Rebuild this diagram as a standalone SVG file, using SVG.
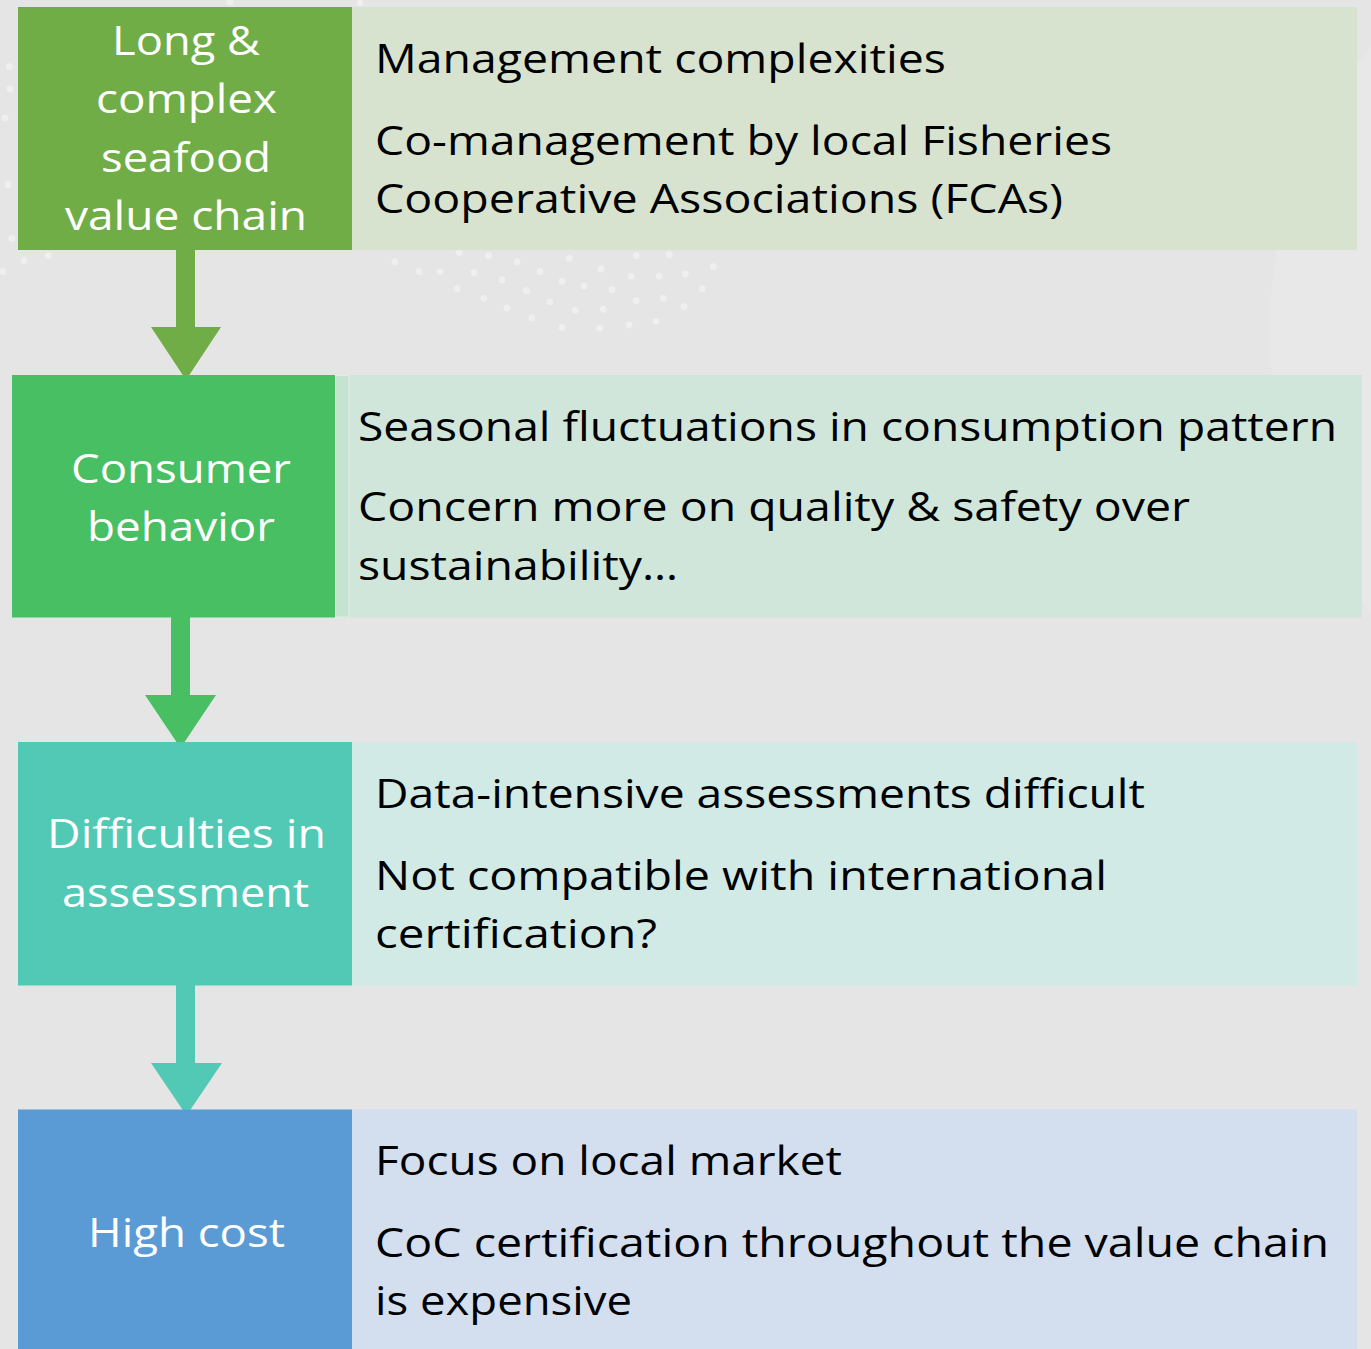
<svg xmlns="http://www.w3.org/2000/svg" width="1371" height="1349" viewBox="0 0 1371 1349">
  <style>
    .lbl { font-family: "Open Sans", "Liberation Sans", sans-serif; font-size: 40px; fill: #FFFFFF; text-anchor: middle; }
    .txt { font-family: "Open Sans", "Liberation Sans", sans-serif; font-size: 40px; fill: #000000; }
    .dot { fill: #EFEFEF; }
  </style>
  <defs>
    <clipPath id="page"><rect x="0" y="0" width="1371" height="1349"/></clipPath>
  </defs>
  <g id="background" clip-path="url(#page)">
    <rect x="0" y="0" width="1371" height="1349" fill="#E5E5E5"/>
    <circle cx="1720" cy="330" r="450" fill="#E8E8E8"/>
    <g id="dots">
      <circle class="dot" cx="395" cy="261.7" r="3.4"/>
      <circle class="dot" cx="419.3" cy="271.7" r="3.4"/>
      <circle class="dot" cx="440" cy="271.7" r="3.4"/>
      <circle class="dot" cx="459.3" cy="252.3" r="3.4"/>
      <circle class="dot" cx="474" cy="272.7" r="3.4"/>
      <circle class="dot" cx="488.7" cy="255.7" r="3.4"/>
      <circle class="dot" cx="502" cy="280" r="3.4"/>
      <circle class="dot" cx="517" cy="261.7" r="3.4"/>
      <circle class="dot" cx="457" cy="288.7" r="3.4"/>
      <circle class="dot" cx="483.7" cy="298.3" r="3.4"/>
      <circle class="dot" cx="507" cy="308" r="3.4"/>
      <circle class="dot" cx="526.3" cy="290.7" r="3.4"/>
      <circle class="dot" cx="540" cy="271.7" r="3.4"/>
      <circle class="dot" cx="549.7" cy="302" r="3.4"/>
      <circle class="dot" cx="531.7" cy="317.7" r="3.4"/>
      <circle class="dot" cx="562" cy="281.3" r="3.4"/>
      <circle class="dot" cx="569.3" cy="258.3" r="3.4"/>
      <circle class="dot" cx="575.3" cy="310.3" r="3.4"/>
      <circle class="dot" cx="584" cy="286" r="3.4"/>
      <circle class="dot" cx="562" cy="327.3" r="3.4"/>
      <circle class="dot" cx="601" cy="269" r="3.4"/>
      <circle class="dot" cx="612" cy="289.7" r="3.4"/>
      <circle class="dot" cx="603.3" cy="309.3" r="3.4"/>
      <circle class="dot" cx="599.7" cy="328.3" r="3.4"/>
      <circle class="dot" cx="629" cy="325" r="3.4"/>
      <circle class="dot" cx="636.3" cy="300.7" r="3.4"/>
      <circle class="dot" cx="631.3" cy="276.3" r="3.4"/>
      <circle class="dot" cx="636.3" cy="255.7" r="3.4"/>
      <circle class="dot" cx="656" cy="321.3" r="3.4"/>
      <circle class="dot" cx="663.3" cy="298.3" r="3.4"/>
      <circle class="dot" cx="659.3" cy="276.3" r="3.4"/>
      <circle class="dot" cx="669.3" cy="254.7" r="3.4"/>
      <circle class="dot" cx="684" cy="306.7" r="3.4"/>
      <circle class="dot" cx="685.3" cy="274" r="3.4"/>
      <circle class="dot" cx="702.3" cy="288.7" r="3.4"/>
      <circle class="dot" cx="713.3" cy="266.7" r="3.4"/>
      <circle class="dot" cx="11.7" cy="238.3" r="3.4"/>
      <circle class="dot" cx="24" cy="260.7" r="3.4"/>
      <circle class="dot" cx="48.3" cy="255.7" r="3.4"/>
      <circle class="dot" cx="2.7" cy="271.7" r="3.4"/>
      <circle class="dot" cx="9.3" cy="66.7" r="3.4"/>
      <circle class="dot" cx="10" cy="89" r="3.4"/>
      <circle class="dot" cx="5" cy="118" r="3.4"/>
      <circle class="dot" cx="8" cy="185" r="3.4"/>
      <circle class="dot" cx="230" cy="2" r="3.4"/>
      <circle class="dot" cx="360" cy="3" r="3.4"/>
    </g>
  </g>

  <g id="connectors">
    <polygon id="arrow1" fill="#70AD47" points="176,249 195,249 195,327 221,327 186,380 151,327 176,327"/>
    <polygon id="arrow2" fill="#48BF63" points="171,616 190,616 190,695 216,695 180.5,748 145,695 171,695"/>
    <polygon id="arrow3" fill="#52C9B5" points="176,984 195,984 195,1063 222,1063 186.5,1115.5 151,1063 176,1063"/>
  </g>

  <g id="node1">
    <rect x="352" y="7" width="1005" height="243" fill="#D8E3CF"/>
    <rect x="18" y="7" width="334" height="243" fill="#70AD47"/>
    <text class="lbl" x="186" y="55" textLength="148" lengthAdjust="spacingAndGlyphs">Long &amp;</text>
    <text class="lbl" x="186.5" y="113" textLength="181" lengthAdjust="spacingAndGlyphs">complex</text>
    <text class="lbl" x="186" y="172" textLength="170" lengthAdjust="spacingAndGlyphs">seafood</text>
    <text class="lbl" x="186" y="230" textLength="242" lengthAdjust="spacingAndGlyphs">value chain</text>
    <text class="txt" x="375" y="73" textLength="571" lengthAdjust="spacingAndGlyphs">Management complexities</text>
    <text class="txt" x="375" y="155" textLength="737" lengthAdjust="spacingAndGlyphs">Co-management by local Fisheries</text>
    <text class="txt" x="375" y="213" textLength="688" lengthAdjust="spacingAndGlyphs">Cooperative Associations (FCAs)</text>
  </g>

  <g id="node2">
    <rect x="335" y="375" width="1027" height="242.5" fill="#D1E6DA"/>
    <rect x="335.5" y="375.5" width="13.5" height="241.5" fill="#C6E2D0" stroke="#DDEFE4" stroke-width="1"/>
    <rect x="12" y="375" width="323" height="242.5" fill="#48BF63"/>
    <text class="lbl" x="181" y="483" textLength="220" lengthAdjust="spacingAndGlyphs">Consumer</text>
    <text class="lbl" x="181" y="541" textLength="188" lengthAdjust="spacingAndGlyphs">behavior</text>
    <text class="txt" x="358" y="441" textLength="979" lengthAdjust="spacingAndGlyphs">Seasonal fluctuations in consumption pattern</text>
    <text class="txt" x="358" y="521" textLength="832" lengthAdjust="spacingAndGlyphs">Concern more on quality &amp; safety over</text>
    <text class="txt" x="358" y="580" textLength="320" lengthAdjust="spacingAndGlyphs">sustainability…</text>
  </g>

  <g id="node3">
    <rect x="352" y="742" width="1005" height="243.5" fill="#D1EAE6"/>
    <rect x="18" y="742" width="334" height="243.5" fill="#52C9B5"/>
    <text class="lbl" x="186.5" y="848" textLength="279" lengthAdjust="spacingAndGlyphs">Difficulties in</text>
    <text class="lbl" x="185.5" y="907" textLength="247" lengthAdjust="spacingAndGlyphs">assessment</text>
    <text class="txt" x="375" y="808" textLength="770" lengthAdjust="spacingAndGlyphs">Data-intensive assessments difficult</text>
    <text class="txt" x="375" y="890" textLength="732" lengthAdjust="spacingAndGlyphs">Not compatible with international</text>
    <text class="txt" x="375" y="948" textLength="282" lengthAdjust="spacingAndGlyphs">certification?</text>
  </g>

  <g id="node4">
    <rect x="352" y="1109.5" width="1005" height="245" fill="#D3DEEF"/>
    <rect x="18" y="1109.5" width="334" height="245" fill="#5B9BD5"/>
    <text class="lbl" x="186.5" y="1247" textLength="197" lengthAdjust="spacingAndGlyphs">High cost</text>
    <text class="txt" x="375" y="1175" textLength="467" lengthAdjust="spacingAndGlyphs">Focus on local market</text>
    <text class="txt" x="375" y="1257" textLength="954" lengthAdjust="spacingAndGlyphs">CoC certification throughout the value chain</text>
    <text class="txt" x="375" y="1315" textLength="257" lengthAdjust="spacingAndGlyphs">is expensive</text>
  </g>
</svg>
